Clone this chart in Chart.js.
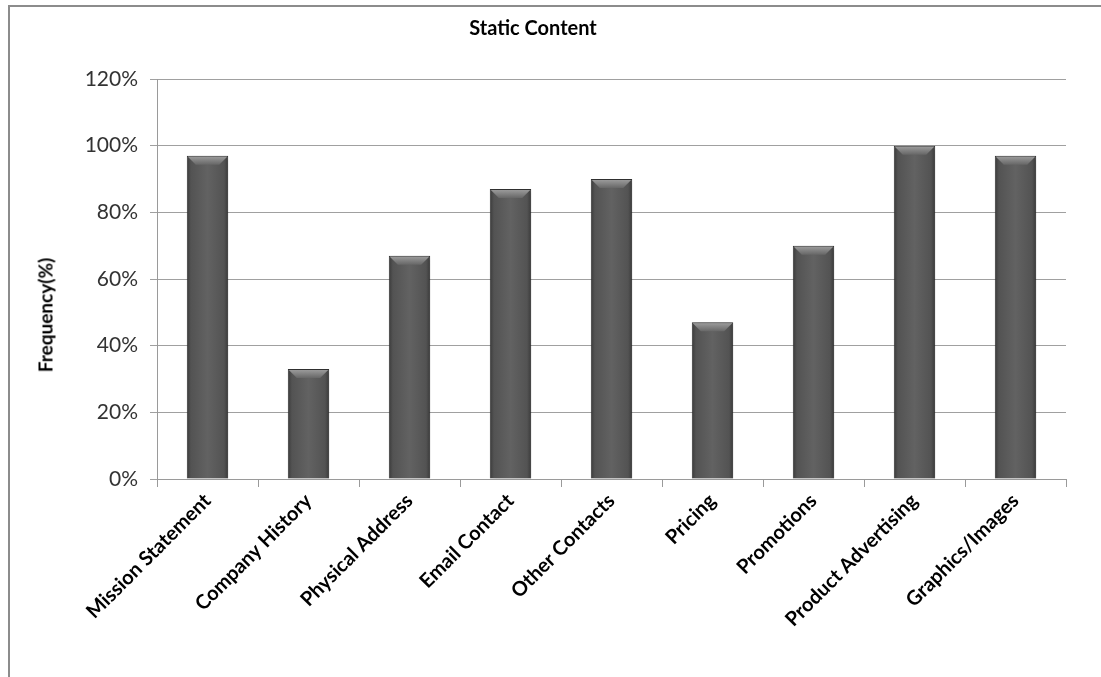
<!DOCTYPE html>
<html>
<head>
<meta charset="utf-8">
<title>Static Content</title>
<script src="https://cdn.jsdelivr.net/npm/chart.js@4.4.1/dist/chart.umd.min.js"></script>
<style>
    html, body { margin: 0; padding: 0; background: #fff; }
    #wrap { position: relative; width: 1101px; height: 677px; overflow: hidden; }
    #frame {
        position: absolute; left: 8px; top: 5px; right: -10px; bottom: -10px;
        border-top: 2px solid #8c8c8c; border-left: 2px solid #8c8c8c;
    }
    #chart { position: absolute; left: 0; top: 0; }
    #title {
        position: absolute; left: 433px; width: 200px; top: 15px; text-align: center;
        font: bold 20px Lato, sans-serif; color: #000;
    }
    #ytitle {
        position: absolute; left: 45px; top: 315px; transform: translate(-50%, -50%) rotate(-90deg);
        font: bold 19px Lato, sans-serif; color: #000; white-space: nowrap;
    }
</style>
</head>
<body>
<div id="wrap">
    <div id="frame"></div>
    <canvas id="chart" width="1101" height="677"></canvas>
    <div id="title">Static Content</div>
    <div id="ytitle">Frequency(%)</div>
</div>
<script>
const categories = ["Mission Statement", "Company History", "Physical Address", "Email Contact",
    "Other Contacts", "Pricing", "Promotions", "Product Advertising", "Graphics/Images"];
const frequency = [97, 33, 67, 87, 90, 47, 70, 100, 97];
const yMax = 120;
const yStep = 20;

// shading for the bars: darker sides, lighter bevel on top
const barShading = {
    id: "barShading",
    beforeDatasetsDraw(chart) {
        const ctx = chart.ctx;
        chart.getDatasetMeta(0).data.forEach(bar => {
            const half = bar.width / 2;
            const g = ctx.createLinearGradient(bar.x - half, 0, bar.x + half, 0);
            g.addColorStop(0, "#3a3a3a");
            g.addColorStop(0.1, "#535353");
            g.addColorStop(0.5, "#626262");
            g.addColorStop(0.9, "#535353");
            g.addColorStop(1, "#3a3a3a");
            // options are shared between bars, so give each its own copy
            bar.options = Object.assign({}, bar.options, { backgroundColor: g });
        });
        ctx.save();
        ctx.shadowColor = "rgba(0,0,0,0.3)";
        ctx.shadowBlur = 5;
        ctx.shadowOffsetX = 2;
        ctx.shadowOffsetY = 1;
    },
    afterDatasetsDraw(chart) {
        const ctx = chart.ctx;
        ctx.restore();
        chart.getDatasetMeta(0).data.forEach(bar => {
            const half = bar.width / 2;
            const left = bar.x - half + 1, right = bar.x + half - 1, top = bar.y + 1;
            const depth = 8;
            const g = ctx.createLinearGradient(0, top, 0, top + depth);
            g.addColorStop(0, "#9a9a9a");
            g.addColorStop(1, "#676767");
            ctx.save();
            ctx.beginPath();
            ctx.moveTo(left, top);
            ctx.lineTo(right, top);
            ctx.lineTo(right - depth, top + depth);
            ctx.lineTo(left + depth, top + depth);
            ctx.closePath();
            ctx.fillStyle = g;
            ctx.fill();
            ctx.restore();
        });
    }
};

const ctx = document.getElementById("chart").getContext("2d");
new Chart(ctx, {
    type: "bar",
    data: {
        labels: categories,
        datasets: [{
            label: "Frequency",
            data: frequency,
            backgroundColor: "#5a5a5a",
            borderColor: "#333",
            borderWidth: 1,
            categoryPercentage: 1,
            barPercentage: 0.41
        }]
    },
    options: {
        responsive: false,
        animation: false,
        layout: { padding: { top: 79, left: 0, right: 35, bottom: 0 } },
        plugins: {
            legend: { display: false },
            tooltip: { enabled: false }
        },
        scales: {
            x: {
                grid: { drawOnChartArea: false, drawTicks: true, tickLength: 8, color: "#9a9a9a", offset: true },
                border: { color: "#9a9a9a", width: 1 },
                ticks: {
                    minRotation: 45, maxRotation: 45, autoSkip: false, padding: 2,
                    color: "#000", font: { family: "Lato", size: 20, weight: "bold" }
                },
                afterFit(scale) { scale.height = 677 - 479; }
            },
            y: {
                min: 0, max: yMax,
                grid: { color: "#a0a0a0", tickLength: 7 },
                border: { color: "#9a9a9a", width: 1 },
                ticks: {
                    stepSize: yStep, padding: 12, color: "#333",
                    font: { family: "Lato", size: 21 },
                    callback: v => v + "%"
                },
                afterFit(scale) { scale.width = 157; }
            }
        }
    },
    plugins: [barShading]
});
</script>
</body>
</html>
